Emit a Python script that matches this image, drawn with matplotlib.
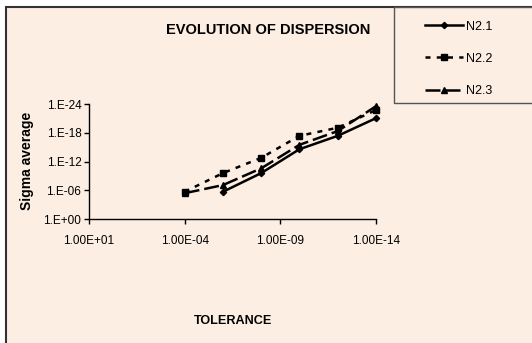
import matplotlib
matplotlib.use("Agg")
import matplotlib.pyplot as plt
from matplotlib.patches import Rectangle
from matplotlib.ticker import NullLocator

plt.rcParams['font.family'] = ['Liberation Sans', 'DejaVu Sans']

# ---- data ----
tol_n21 = [1e-6, 1e-8, 1e-10, 1e-12, 1e-14]
sig_n21 = [2e-6, 2.5e-10, 2.5e-15, 4e-18, 8e-22]

tol_n22 = [1e-4, 1e-6, 1e-8, 1e-10, 1e-12, 1e-14]
sig_n22 = [2e-6, 2.5e-10, 1.6e-13, 4e-18, 8e-20, 1.6e-23]

tol_n23 = [1e-4, 1e-6, 1e-8, 1e-10, 1e-12, 1e-14]
sig_n23 = [4e-6, 8e-8, 2.5e-11, 3e-16, 4e-19, 2.5e-24]

x_ticks = [1e1, 1e-4, 1e-9, 1e-14]
x_ticklabels = ["1.00E+01", "1.00E-04", "1.00E-09", "1.00E-14"]
y_ticks = [1e0, 1e-6, 1e-12, 1e-18, 1e-24]
y_ticklabels = ["1.E+00", "1.E-06", "1.E-12", "1.E-18", "1.E-24"]

title = "EVOLUTION OF DISPERSION"
xlabel = "TOLERANCE"
ylabel = "Sigma average"
labels = ["N2.1", "N2.2", "N2.3"]

bg = "#FCEEE3"

W, H = 532, 343
fig = plt.figure(figsize=(W / 100, H / 100), dpi=100)
fig.patch.set_facecolor("white")

# chart area frame
fig.patches.append(Rectangle((6 / W, -0.05), 1.1, 1 - 7 / H + 0.05,
                             transform=fig.transFigure, facecolor=bg,
                             edgecolor="#333333", linewidth=1.5, zorder=-2))
# legend box
fig.patches.append(Rectangle((394 / W, 1 - 103 / H), 0.5, (103 - 7) / H,
                             transform=fig.transFigure, facecolor=bg,
                             edgecolor="#555555", linewidth=1.0, zorder=-1))

ax = fig.add_axes([89 / W, 1 - 219 / H, (376 - 89) / W, (219 - 104.3) / H])
ax.set_zorder(2)
ax.set_facecolor("none")
ax.set_xscale("log")
ax.set_yscale("log")
ax.set_xlim(1e1, 1e-14)
ax.set_ylim(1e0, 1e-24)

lw = 1.8
ax.plot(tol_n21, sig_n21, color="black", lw=lw, ls="-", marker="D", ms=3.2,
        label=labels[0], clip_on=False)
ax.plot(tol_n22, sig_n22, color="black", lw=lw, ls=(0, (2, 2.5)), marker="s", ms=4.2,
        label=labels[1], clip_on=False)
ax.plot(tol_n23, sig_n23, color="black", lw=lw, ls=(0, (6, 2)), marker="^", ms=4.2,
        label=labels[2], clip_on=False)

ax.set_xticks(x_ticks)
ax.set_xticklabels(x_ticklabels)
ax.xaxis.set_minor_locator(NullLocator())
ax.set_yticks(y_ticks)
ax.set_yticklabels(y_ticklabels)
ax.yaxis.set_minor_locator(NullLocator())
ax.tick_params(axis="both", direction="out", length=3.5, width=1, labelsize=8.5,
               colors="black", pad=2)
ax.tick_params(axis="x", pad=8)
for s in ["top", "right"]:
    ax.spines[s].set_visible(False)
for s in ["left", "bottom"]:
    ax.spines[s].set_linewidth(1)

fig.text(268 / W, 1 - 30 / H, title, ha="center", va="center",
         fontsize=10.5, fontweight="bold")
fig.text(233 / W, 1 - 321 / H, xlabel, ha="center", va="center",
         fontsize=9.1, fontweight="bold")
fig.text(27 / W, 1 - 161 / H, ylabel, ha="center", va="center",
         rotation=90, fontsize=10, fontweight="bold")

handles, lbls = ax.get_legend_handles_labels()
leg = fig.legend(handles, lbls, loc="upper left",
                 bbox_to_anchor=(425 / W, 1 - 20.5 / H), frameon=False,
                 fontsize=9, handlelength=3.0, handletextpad=0.3,
                 labelspacing=1.62, borderpad=0, borderaxespad=0, numpoints=1)

fig.savefig("out.png", dpi=100, facecolor=fig.get_facecolor())
